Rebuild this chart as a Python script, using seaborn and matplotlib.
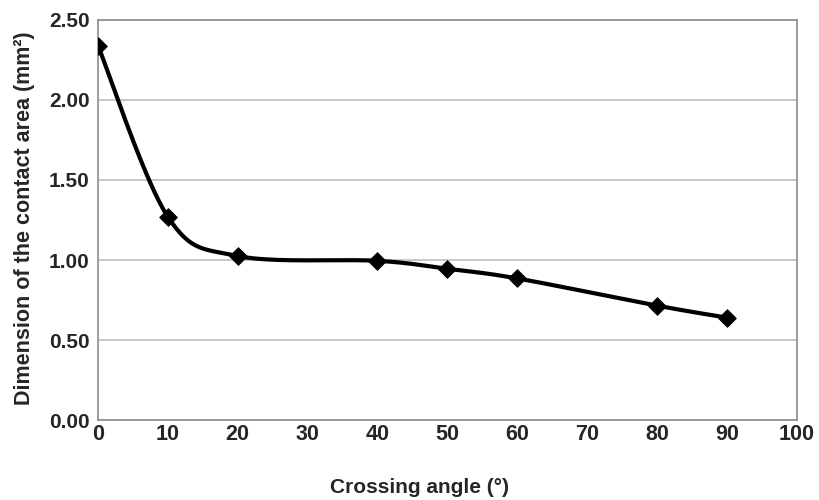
import numpy as np
import pandas as pd
import matplotlib
matplotlib.use('Agg')
import matplotlib.pyplot as plt
import seaborn as sns

# data
angle = [0, 10, 20, 40, 50, 60, 80, 90]
area = [2.34, 1.27, 1.025, 0.995, 0.945, 0.885, 0.715, 0.64]
x_ticks = [0, 10, 20, 30, 40, 50, 60, 70, 80, 90, 100]
y_ticks = [0.0, 0.5, 1.0, 1.5, 2.0, 2.5]

sns.set_theme(style="white")
plt.rcParams['font.family'] = ['Liberation Sans', 'DejaVu Sans']


def smooth_line(xs, ys, n=40):
    # Excel-like smoothed line: cubic Bezier with control points from neighbours
    p = np.column_stack([xs, ys]).astype(float)
    out = []
    for i in range(len(p) - 1):
        p0 = p[i - 1] if i > 0 else p[i]
        p3 = p[i + 2] if i + 2 < len(p) else p[i + 1]
        c1 = p[i] + (p[i + 1] - p0) / 6
        c2 = p[i + 1] - (p3 - p[i]) / 6
        t = np.linspace(0, 1, n)[:, None]
        seg = ((1 - t) ** 3) * p[i] + 3 * ((1 - t) ** 2) * t * c1 + 3 * (1 - t) * t ** 2 * c2 + t ** 3 * p[i + 1]
        out.append(seg if i == 0 else seg[1:])
    out = np.vstack(out)
    return out[:, 0], out[:, 1]


sx, sy = smooth_line(angle, area)
curve = pd.DataFrame({"x": sx, "y": sy})
pts = pd.DataFrame({"angle": angle, "area": area})

fig = plt.figure(figsize=(8.2, 5), dpi=100)
ax = fig.add_axes([0.1195, 0.16, 0.852, 0.80])

sns.lineplot(data=curve, x="x", y="y", sort=False, color="black", linewidth=3.0, ax=ax)
sns.scatterplot(data=pts, x="angle", y="area", marker="D", color="black", s=80,
                edgecolor="black", zorder=5, ax=ax)

ax.set_xlim(0, 100)
ax.set_ylim(0, 2.5)
ax.set_xticks(x_ticks)
ax.set_yticks(y_ticks)
ax.set_xticklabels([str(v) for v in x_ticks], fontsize=15.5, fontweight="bold")
ax.set_yticklabels([f"{v:.2f}" for v in y_ticks], fontsize=15, fontweight="bold")
ax.tick_params(axis="x", length=0, pad=3)
ax.tick_params(axis="y", length=0, pad=6)

ax.yaxis.grid(True, color="#bfbfbf", linewidth=1.2)
ax.xaxis.grid(False)
for sp in ax.spines.values():
    sp.set_color("#8c8c8c")
    sp.set_linewidth(1.2)

ax.set_xlabel("Crossing angle (°)", fontsize=15, fontweight="bold")
ax.xaxis.set_label_coords(0.46, -0.145)
ax.set_ylabel("Dimension of the contact area (mm²)", fontsize=15.5, fontweight="bold")
ax.yaxis.set_label_coords(-0.09, 0.505)

fig.savefig("out.png", dpi=100)
